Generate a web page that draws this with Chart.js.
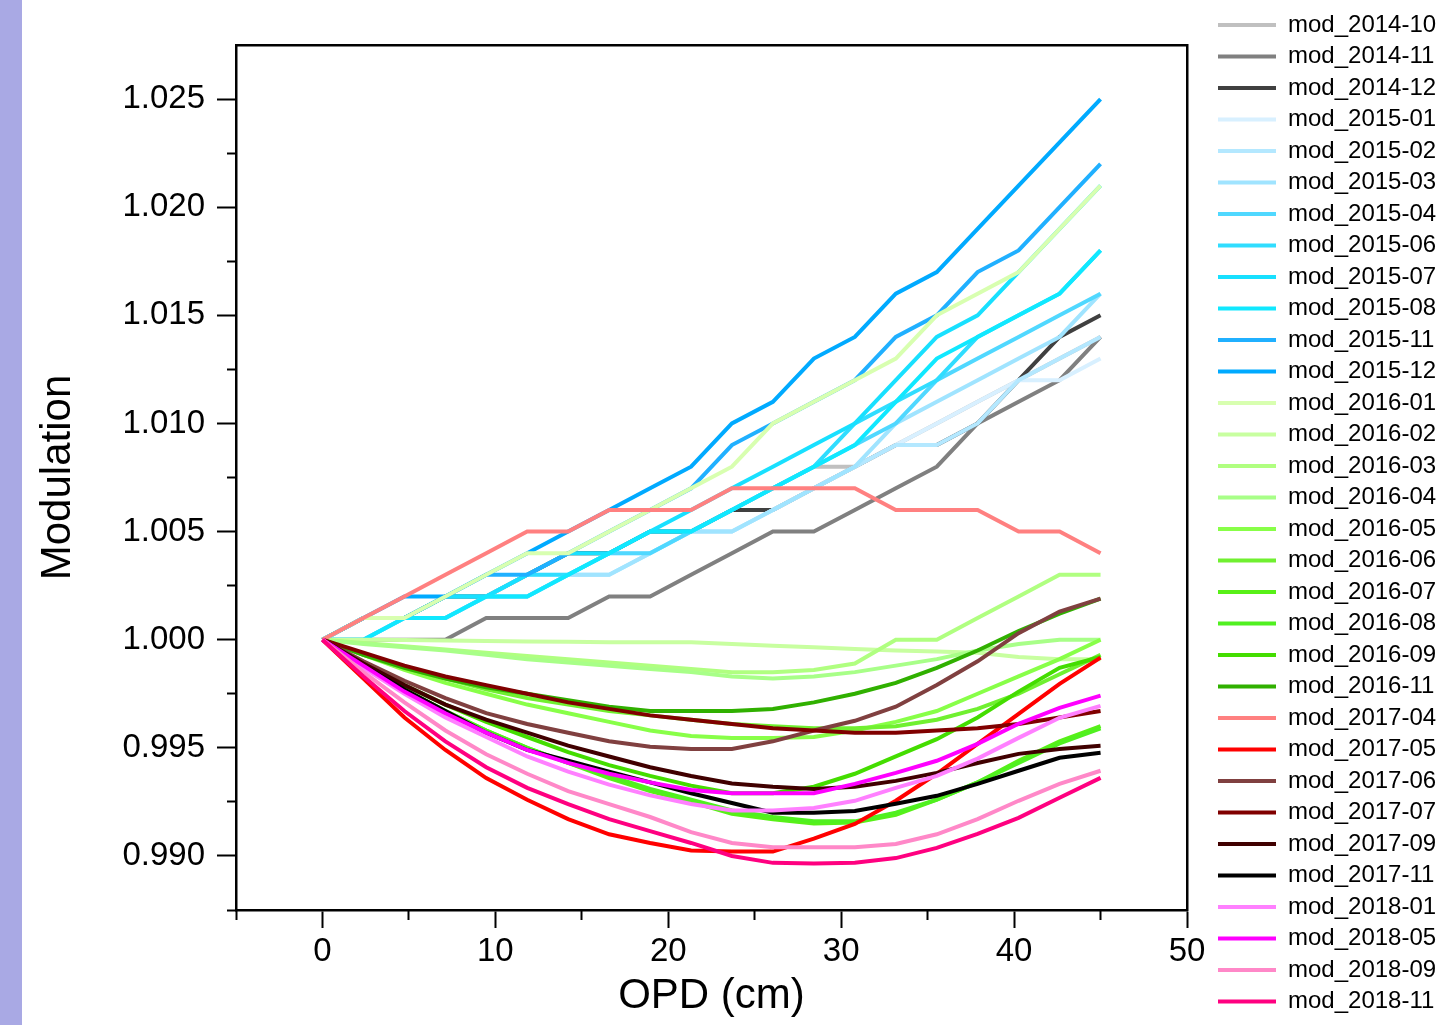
<!DOCTYPE html>
<html>
<head>
<meta charset="utf-8">
<script src="https://cdn.jsdelivr.net/npm/chart.js@4.4.0/dist/chart.umd.min.js"></script>
<style>
  body { margin: 0; background: #fff; }
  #strip { position: absolute; left: 0; top: 0; width: 22px; height: 1025px; background: #a9a9e4; }
  #myChart { position: absolute; left: 0; top: 0; }
</style>
</head>
<body>
<div id="strip"></div>
<canvas id="myChart" width="1449" height="1025"></canvas>
<script>
// OPD sample positions (cm)
const opd = [0, 2.37, 4.74, 7.11, 9.47, 11.84, 14.21, 16.58, 18.95, 21.32, 23.68, 26.05, 28.42, 30.79, 33.16, 35.53, 37.89, 40.26, 42.63, 45];

const xMajor = [0, 10, 20, 30, 40, 50];
const xMinor = [-5, 5, 15, 25, 35, 45];
const yMajor = [0.990, 0.995, 1.000, 1.005, 1.010, 1.015, 1.020, 1.025];
const yMinor = [0.9875, 0.9925, 0.9975, 1.0025, 1.0075, 1.0125, 1.0175, 1.0225];

const names = ['mod_2014-10', 'mod_2014-11', 'mod_2014-12', 'mod_2015-01', 'mod_2015-02', 'mod_2015-03',
  'mod_2015-04', 'mod_2015-06', 'mod_2015-07', 'mod_2015-08', 'mod_2015-11', 'mod_2015-12',
  'mod_2016-01', 'mod_2016-02', 'mod_2016-03', 'mod_2016-04', 'mod_2016-05', 'mod_2016-06',
  'mod_2016-07', 'mod_2016-08', 'mod_2016-09', 'mod_2016-11', 'mod_2017-04', 'mod_2017-05',
  'mod_2017-06', 'mod_2017-07', 'mod_2017-09', 'mod_2017-11', 'mod_2018-01', 'mod_2018-05',
  'mod_2018-09', 'mod_2018-11'];

const colors = ['#c0c0c0', '#808080', '#404040', '#d8f0ff', '#b4e8ff', '#a0e4ff',
  '#50d8ff', '#30ddff', '#18e0ff', '#10e8ff', '#20b0ff', '#00aaff',
  '#d8ffb0', '#c8ffa0', '#b0ff80', '#a8ff88', '#88ff48', '#70f030',
  '#58f018', '#50f020', '#44dd00', '#30b000', '#ff8080', '#ff0000',
  '#804040', '#800000', '#400000', '#000000', '#ff80ff', '#ff00ff',
  '#ff88c8', '#ff0080'];

const m1410 = [1.000, 1.001, 1.001, 1.002, 1.002, 1.003, 1.004, 1.004, 1.005, 1.005, 1.006, 1.007, 1.008, 1.008, 1.009, 1.010, 1.011, 1.012, 1.013, 1.014];
const m1411 = [1.000, 1.000, 1.000, 1.000, 1.001, 1.001, 1.001, 1.002, 1.002, 1.003, 1.004, 1.005, 1.005, 1.006, 1.007, 1.008, 1.010, 1.011, 1.012, 1.014];
const m1412 = [1.000, 1.001, 1.001, 1.002, 1.002, 1.003, 1.004, 1.004, 1.005, 1.005, 1.006, 1.006, 1.007, 1.008, 1.009, 1.009, 1.010, 1.012, 1.014, 1.015];
const m1501 = [1.000, 1.000, 1.001, 1.001, 1.002, 1.003, 1.003, 1.004, 1.004, 1.005, 1.005, 1.006, 1.007, 1.008, 1.009, 1.010, 1.011, 1.012, 1.012, 1.013];
const m1502 = [1.000, 1.000, 1.001, 1.001, 1.002, 1.002, 1.003, 1.003, 1.004, 1.005, 1.005, 1.006, 1.007, 1.008, 1.009, 1.009, 1.010, 1.012, 1.013, 1.014];
const m1503 = [1.000, 1.000, 1.001, 1.001, 1.002, 1.002, 1.003, 1.003, 1.004, 1.005, 1.005, 1.006, 1.007, 1.008, 1.010, 1.011, 1.012, 1.013, 1.014, 1.016];
const m1504 = [1.000, 1.000, 1.001, 1.001, 1.002, 1.002, 1.003, 1.004, 1.004, 1.005, 1.006, 1.007, 1.008, 1.009, 1.010, 1.012, 1.013, 1.014, 1.015, 1.016];
const m1506 = [1.000, 1.001, 1.001, 1.002, 1.002, 1.003, 1.003, 1.004, 1.005, 1.005, 1.006, 1.007, 1.008, 1.010, 1.011, 1.012, 1.014, 1.015, 1.016, 1.018];
const m1507 = [1.000, 1.001, 1.001, 1.002, 1.002, 1.003, 1.004, 1.004, 1.005, 1.006, 1.007, 1.008, 1.009, 1.010, 1.012, 1.014, 1.015, 1.017, 1.019, 1.021];
const m1508 = [1.000, 1.000, 1.001, 1.001, 1.002, 1.002, 1.003, 1.004, 1.005, 1.005, 1.006, 1.007, 1.008, 1.009, 1.011, 1.013, 1.014, 1.015, 1.016, 1.018];
const m1511 = [1.000, 1.001, 1.001, 1.002, 1.003, 1.003, 1.004, 1.005, 1.006, 1.007, 1.009, 1.010, 1.011, 1.012, 1.014, 1.015, 1.017, 1.018, 1.020, 1.022];
const m1512 = [1.000, 1.001, 1.002, 1.002, 1.003, 1.004, 1.005, 1.006, 1.007, 1.008, 1.010, 1.011, 1.013, 1.014, 1.016, 1.017, 1.019, 1.021, 1.023, 1.025];
const m1601 = [1.000, 1.001, 1.001, 1.002, 1.003, 1.004, 1.004, 1.005, 1.006, 1.007, 1.008, 1.010, 1.011, 1.012, 1.013, 1.015, 1.016, 1.017, 1.019, 1.021];
const m1602 = [1.0000, 1.0000, 0.99998, 0.99996, 0.99994, 0.99992, 0.9999, 0.99988, 0.99988, 0.99988, 0.9998, 0.99972, 0.99965, 0.99957, 0.9995, 0.99945, 0.9994, 0.9992, 0.9991, 0.9991];
const m1603 = [1.0000, 0.99985, 0.9997, 0.99955, 0.9994, 0.99925, 0.9991, 0.99895, 0.9988, 0.99865, 0.9985, 0.9985, 0.9986, 0.9989, 1.0000, 1.0000, 1.0010, 1.0020, 1.0030, 1.0030];
const m1604 = [1.0000, 0.9998, 0.99965, 0.9995, 0.9993, 0.9991, 0.99895, 0.9988, 0.99865, 0.9985, 0.9983, 0.9982, 0.9983, 0.9985, 0.9988, 0.9991, 0.9995, 0.9998, 1.0000, 1.0000];
const m1605 = [1.0000, 0.9993, 0.9986, 0.9980, 0.9975, 0.9970, 0.9966, 0.9962, 0.9958, 0.99555, 0.99545, 0.99545, 0.9955, 0.9958, 0.9962, 0.9967, 0.9975, 0.9983, 0.9991, 1.0000];
const m1606 = [1.0000, 0.9993, 0.9987, 0.9982, 0.9977, 0.9973, 0.9970, 0.9967, 0.9965, 0.9963, 0.9961, 0.9960, 0.9959, 0.9959, 0.9960, 0.9963, 0.9968, 0.9975, 0.9984, 0.9993];
const m1607 = [1.0000, 0.9988, 0.9977, 0.9967, 0.9958, 0.9950, 0.9943, 0.9936, 0.9930, 0.9925, 0.99195, 0.9917, 0.9915, 0.99155, 0.9919, 0.9926, 0.9934, 0.9944, 0.9953, 0.9960];
const m1608 = [1.0000, 0.9988, 0.9977, 0.9967, 0.9958, 0.9950, 0.9943, 0.9937, 0.9931, 0.9926, 0.9921, 0.9918, 0.9916, 0.9916, 0.9920, 0.9926, 0.9934, 0.9943, 0.9952, 0.9959];
const m1609 = [1.0000, 0.9989, 0.9979, 0.9970, 0.9962, 0.9955, 0.9948, 0.9942, 0.9937, 0.99325, 0.9929, 0.9929, 0.9932, 0.9938, 0.9946, 0.9954, 0.9964, 0.9976, 0.9987, 0.9992];
const m1611 = [1.0000, 0.9993, 0.9987, 0.9982, 0.9978, 0.9975, 0.9972, 0.9969, 0.9967, 0.9967, 0.9967, 0.9968, 0.9971, 0.9975, 0.9980, 0.9987, 0.9995, 1.0004, 1.0012, 1.0019];
const m1704 = [1.000, 1.001, 1.002, 1.003, 1.004, 1.005, 1.005, 1.006, 1.006, 1.006, 1.007, 1.007, 1.007, 1.007, 1.006, 1.006, 1.006, 1.005, 1.005, 1.004];
const m1705 = [1.0000, 0.9982, 0.9964, 0.9949, 0.9936, 0.9926, 0.9917, 0.9910, 0.9906, 0.99025, 0.9902, 0.9902, 0.9908, 0.99148, 0.99255, 0.9938, 0.99518, 0.99657, 0.99796, 0.99917];
const m1706 = [1.0000, 0.9990, 0.9981, 0.9973, 0.9966, 0.9961, 0.9957, 0.9953, 0.99505, 0.99495, 0.99495, 0.9953, 0.9958, 0.99625, 0.9969, 0.9979, 0.9990, 1.0003, 1.0013, 1.0019];
const m1707 = [1.0000, 0.9994, 0.9988, 0.9983, 0.9979, 0.9975, 0.9971, 0.9968, 0.9965, 0.9963, 0.9961, 0.9959, 0.9958, 0.9957, 0.9957, 0.9958, 0.9959, 0.9961, 0.9964, 0.9967];
const m1709 = [1.0000, 0.9989, 0.9979, 0.9970, 0.9963, 0.9957, 0.9951, 0.9946, 0.9941, 0.9937, 0.99335, 0.9932, 0.9931, 0.9932, 0.99347, 0.99384, 0.9943, 0.99472, 0.99495, 0.99509];
const m1711 = [1.0000, 0.9988, 0.9977, 0.9967, 0.9957, 0.9949, 0.9944, 0.9939, 0.9934, 0.9929, 0.99245, 0.9920, 0.9920, 0.99208, 0.99241, 0.99278, 0.99333, 0.99394, 0.99454, 0.99477];
const m1801 = [1.0000, 0.9987, 0.9975, 0.9964, 0.9955, 0.9946, 0.9939, 0.9933, 0.9928, 0.9924, 0.9921, 0.9921, 0.99222, 0.99255, 0.99315, 0.9937, 0.9945, 0.99546, 0.99639, 0.99694];
const m1805 = [1.0000, 0.9988, 0.9976, 0.9966, 0.9957, 0.9949, 0.9943, 0.9938, 0.9934, 0.99305, 0.9929, 0.9929, 0.9929, 0.99333, 0.99384, 0.9944, 0.99518, 0.99611, 0.99685, 0.99741];
const m1809 = [1.0000, 0.9985, 0.9971, 0.9958, 0.9947, 0.9938, 0.9930, 0.9924, 0.9918, 0.9911, 0.9906, 0.9904, 0.9904, 0.9904, 0.99055, 0.9910, 0.9917, 0.99255, 0.99333, 0.99394];
const m1811 = [1.0000, 0.9983, 0.9967, 0.9953, 0.9941, 0.99315, 0.9924, 0.9917, 0.99115, 0.9906, 0.9900, 0.98968, 0.98965, 0.98968, 0.9899, 0.99037, 0.99102, 0.99176, 0.99269, 0.99361];

const series = [m1410, m1411, m1412, m1501, m1502, m1503, m1504, m1506, m1507, m1508, m1511, m1512,
  m1601, m1602, m1603, m1604, m1605, m1606, m1607, m1608, m1609, m1611,
  m1704, m1705, m1706, m1707, m1709, m1711, m1801, m1805, m1809, m1811];

const FONT = "'Liberation Sans', Arial, sans-serif";
const LEG_PAD = 7.5, LEG_SIZE = 24;

// legend sits at fixed place on the right like the origin export
const legendPlace = {
  id: 'legendPlace',
  beforeLayout(chart) {
    const lg = chart.legend;
    if (lg && !lg._wrapped) {
      const fit = lg.fit;
      lg.fit = function () { fit.call(this); this.width = 262; };
      lg._wrapped = true;
    }
  },
  afterLayout(chart) {
    const lg = chart.legend;
    const dx = 1218 - (lg.left + LEG_PAD);
    const dy = 25 - (lg.top + LEG_PAD + LEG_SIZE / 2);
    lg.left += dx; lg.right += dx;
    lg.top += dy; lg.bottom += dy;
  }
};

window.onload = () => {
  const ctx = document.getElementById('myChart').getContext('2d');

  const datasets = series.map((vals, i) => ({
    label: names[i],
    data: vals.map((v, k) => ({x: opd[k], y: v})),
    borderColor: colors[i],
    backgroundColor: colors[i],
    borderWidth: 4,
    pointRadius: 0,
    tension: 0,
    fill: false,
    order: series.length - i   // later series drawn on top
  }));

  const tickGrid = (len) => ({
    display: true,
    drawOnChartArea: false,
    drawTicks: true,
    tickLength: len,
    tickWidth: 2,
    tickColor: '#000',
    color: '#000'
  });

  new Chart(ctx, {
    type: 'line',
    data: { datasets: datasets },
    plugins: [legendPlace],
    options: {
      responsive: false,
      animation: false,
      layout: { padding: 0 },
      plugins: {
        legend: {
          position: 'right',
          align: 'start',
          labels: {
            boxWidth: 58,
            boxHeight: 4,
            padding: LEG_PAD,
            color: '#000',
            font: { family: FONT, size: LEG_SIZE },
            generateLabels: (chart) => Chart.defaults.plugins.legend.labels.generateLabels(chart)
              .map(item => Object.assign(item, { lineWidth: 0 })),
            sort: (a, b) => a.datasetIndex - b.datasetIndex
          }
        },
        tooltip: { enabled: false }
      },
      scales: {
        x: {
          type: 'linear', position: 'bottom', weight: 1,
          min: -5, max: 50,
          afterBuildTicks: (s) => { s.ticks = xMajor.map(v => ({value: v})); },
          afterFit: (s) => { s.height = 115; },
          ticks: { color: '#000', padding: 4, font: { family: FONT, size: 33 }, callback: (v) => String(v) },
          grid: tickGrid(18),
          border: { display: true, color: '#000', width: 2.5 },
          title: { display: true, text: 'OPD (cm)', color: '#000', font: { family: FONT, size: 42 }, padding: { top: 0, bottom: 3 } }
        },
        xMinor: {
          type: 'linear', position: 'bottom', weight: 0,
          min: -5, max: 50,
          afterBuildTicks: (s) => { s.ticks = xMinor.map(v => ({value: v})); },
          afterFit: (s) => { s.height = 0; },
          ticks: { display: false },
          grid: tickGrid(10),
          border: { display: false }
        },
        xTop: {
          type: 'linear', position: 'top',
          min: -5, max: 50,
          afterFit: (s) => { s.height = 45; },
          ticks: { display: false },
          grid: { display: false },
          border: { display: true, color: '#000', width: 2.5 }
        },
        y: {
          type: 'linear', position: 'left', weight: 1,
          min: 0.9875, max: 1.0275,
          afterBuildTicks: (s) => { s.ticks = yMajor.map(v => ({value: v})); },
          afterFit: (s) => { s.width = 236; },
          ticks: { color: '#000', padding: 12, font: { family: FONT, size: 33 }, callback: (v) => v.toFixed(3) },
          grid: tickGrid(19),
          border: { display: true, color: '#000', width: 2.5 },
          title: { display: true, text: 'Modulation', color: '#000', font: { family: FONT, size: 42 }, padding: { top: 33, bottom: 0 } }
        },
        yMinor: {
          type: 'linear', position: 'left', weight: 0,
          min: 0.9875, max: 1.0275,
          afterBuildTicks: (s) => { s.ticks = yMinor.map(v => ({value: v})); },
          afterFit: (s) => { s.width = 0; },
          ticks: { display: false },
          grid: tickGrid(9),
          border: { display: false }
        },
        yRight: {
          type: 'linear', position: 'right', weight: 0,
          min: 0.9875, max: 1.0275,
          afterFit: (s) => { s.width = 0; },
          ticks: { display: false },
          grid: { display: false },
          border: { display: true, color: '#000', width: 2.5 }
        }
      }
    }
  });
};
</script>
</body>
</html>
